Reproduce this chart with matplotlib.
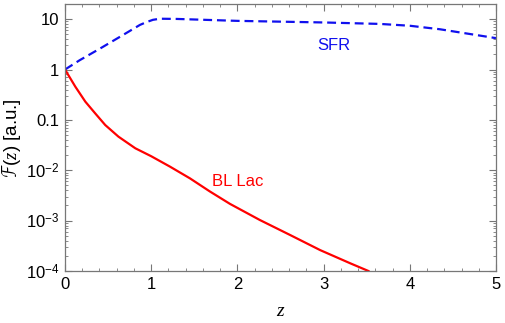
"""
Redshift evolution of source density: SFR vs BL Lac.
"""

import matplotlib
matplotlib.use("Agg")
import matplotlib.pyplot as plt
import matplotlib.ticker as mticker
import numpy as np

# values
sfr_z = [0.0, 0.17, 0.41, 0.64, 0.87, 0.95, 1.02, 1.1, 1.3, 2.0, 3.0, 3.65, 4.0, 4.35, 5.0]
sfr_f = [1.0, 1.53, 2.63, 4.49, 7.7, 8.8, 9.7, 10.2, 10.1, 9.25, 8.6, 8.05, 7.4, 6.3, 4.2]

bllac_z = [0.0, 0.12, 0.236, 0.35, 0.467, 0.62, 0.816, 1.0, 1.218, 1.45, 1.68,
           1.914, 2.26, 2.61, 2.96, 3.31, 3.52]
bllac_f = [1.0, 0.456, 0.23, 0.135, 0.079, 0.0465, 0.0273, 0.019, 0.0118, 6.9e-3,
           3.8e-3, 2.15e-3, 1.03e-3, 5.2e-4, 2.6e-4, 1.42e-4, 1.0e-4]

ytick_vals = [1e1, 1e0, 1e-1, 1e-2, 1e-3, 1e-4]
ytick_labels = ["10", "1", "0.1", r"$10^{-2}$", r"$10^{-3}$", r"$10^{-4}$"]

plt.rcParams["font.family"] = ["Liberation Sans", "DejaVu Sans"]
plt.rcParams["mathtext.fontset"] = "custom"
plt.rcParams["mathtext.rm"] = "Liberation Sans"
plt.rcParams["mathtext.it"] = "Liberation Serif:italic"

fig = plt.figure(figsize=(5.06, 3.23), dpi=100)
ax = fig.add_axes([65 / 506, 1 - 271 / 323, 431 / 506, 267 / 323])

ax.plot(sfr_z, sfr_f, color="#1010ee", lw=1.6, ls=(0, (4, 2.2)))
ax.plot(bllac_z, bllac_f, color="#ff0000", lw=1.6)

ax.set_yscale("log")
ax.set_xlim(0, 5)
ax.set_ylim(1e-4, 20)

ax.set_yticks(ytick_vals)
ax.set_yticklabels(ytick_labels)
ax.yaxis.set_minor_locator(mticker.LogLocator(base=10, subs=np.arange(2, 10)))
ax.yaxis.set_minor_formatter(mticker.NullFormatter())
ax.set_xticks([0, 1, 2, 3, 4, 5])
ax.xaxis.set_minor_locator(mticker.MultipleLocator(0.2))

ax.tick_params(which="both", direction="in", top=True, right=True,
               color="#777777", labelsize=12, pad=4)
ax.tick_params(which="major", length=5, width=0.8)
ax.tick_params(which="minor", length=2.5, width=0.6)
for s in ax.spines.values():
    s.set_color("#777777")
    s.set_linewidth(0.9)

ax.set_xlabel(r"$z$", fontsize=14, labelpad=8)
ax.set_ylabel(r"$\mathcal{F}(z)$ [a.u.]", fontsize=13.5, labelpad=2)

ax.text(3.12, 3.0, "SFR", color="#1010ee", fontsize=12, ha="center", va="center")
ax.text(2.0, 6e-3, "BL Lac", color="#ff0000", fontsize=12, ha="center", va="center")

fig.savefig("out.png", dpi=100)
